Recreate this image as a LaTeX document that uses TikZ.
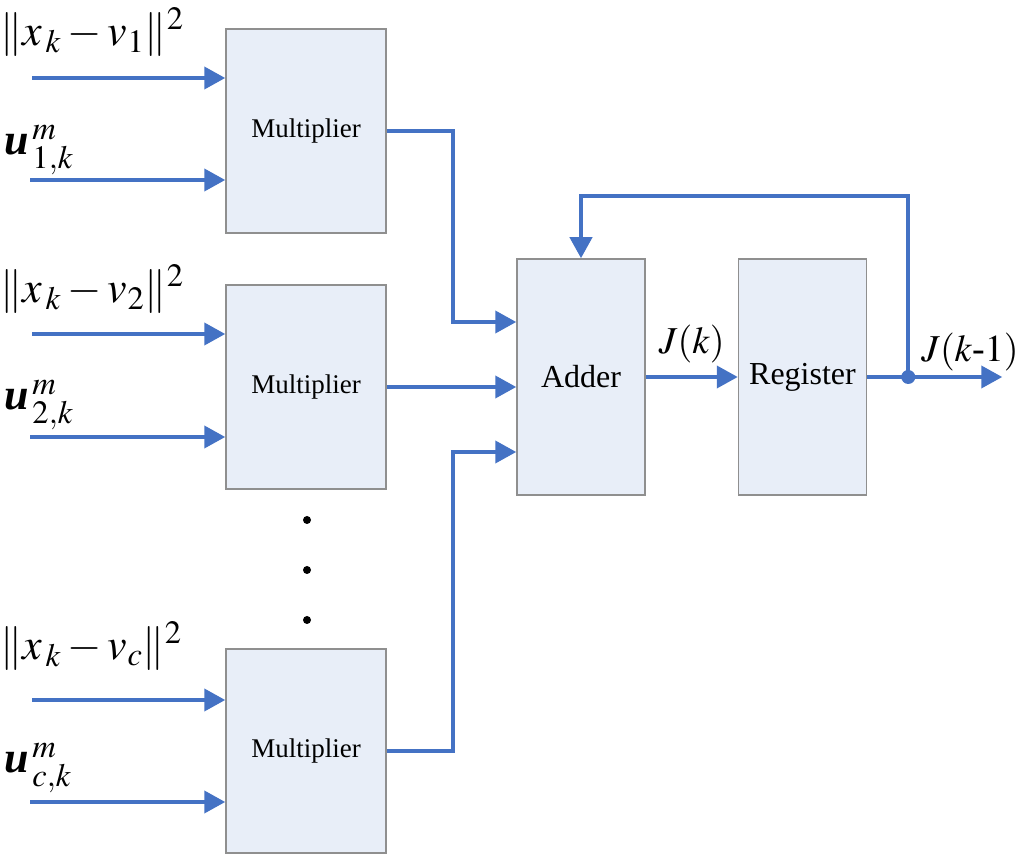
\documentclass[tikz,border=0pt]{standalone}
\usepackage{amsmath}
\usepackage{mathptmx}
\usepackage{fontspec}
\setmainfont{Liberation Serif}
\usetikzlibrary{arrows.meta,positioning}
\definecolor{wireblue}{HTML}{4472C4}
\definecolor{boxfill}{HTML}{E8EEF8}
\definecolor{boxedge}{HTML}{8F8F8F}

\begin{document}
\begin{tikzpicture}[x=0.5pt,y=-0.5pt,
  block/.style={draw=boxedge,fill=boxfill,line width=0.75pt,inner sep=0pt,
    minimum width=80pt,minimum height=102pt,font=\fontsize{13.5}{16}\selectfont},
  bigblock/.style={block,minimum width=64pt,minimum height=118pt,font=\fontsize{16}{19}\selectfont},
  wire/.style={draw=wireblue,line width=2pt,-{Triangle[length=10.5pt,width=11pt]}},
  lbl/.style={inner sep=0pt,font=\fontsize{22}{25}\selectfont},
  jlbl/.style={inner sep=0pt,font=\fontsize{19}{22}\selectfont}]
\useasboundingbox (0,0) rectangle (1024,855);
\node[block] (m1) at (306,131) {Multiplier};
\node[block] (m2) at (306,387) {Multiplier};
\node[block] (m3) at (306,751) {Multiplier};
\node[bigblock] (add) at (581,377) {Adder};
\node[bigblock] (reg) [right=46pt of add] {Register};
% inputs
\foreach \m/\a/\b in {m1/78/180,m2/334/437,m3/700/802}{
  \coordinate (\m-x) at (32,\a);
  \coordinate (\m-u) at (30,\b);
  \draw[wire] (\m-x) -- (\m-x -| \m.west);
  \draw[wire] (\m-u) -- (\m-u -| \m.west);
}
\node[lbl,anchor=west] (x1) at (0,32) {$\|x_{\,k}-v_{1}\|^{2}$};
\node[lbl,anchor=west] (u1) at (4,150) {$\text{\bfseries\itshape u}^{\,m}_{\,1,k}$};
\node[lbl,anchor=west] (x2) at (0,289) {$\|x_{\,k}-v_{2}\|^{2}$};
\node[lbl,anchor=west] (u2) at (4,405) {$\text{\bfseries\itshape u}^{\,m}_{\,2,k}$};
\node[lbl,anchor=west] (xc) at (0,646) {$\|x_{\,k}-v_{c}\|^{2}$};
\node[lbl,anchor=west] (uc) at (4,768) {$\text{\bfseries\itshape u}^{\,m}_{\,c,k}$};
\foreach \y in {520,570,620} \fill (307,\y) circle (2pt);
% multipliers to adder
\coordinate (b1) at (453,322);
\coordinate (b3) at (453,452);
\draw[wire] (m1.east) -| (b1) -- (b1 -| add.west);
\draw[wire] (m2.east) -- (m2.east -| add.west);
\draw[wire] (m3.east) -| (b3) -- (b3 -| add.west);
% adder, register, feedback
\draw[wire] (add) -- node[jlbl,above=6pt] (jk) {$J(k)$} (reg);
\coordinate[right=20.5pt of reg.east] (tap);
\coordinate[right=67.5pt of reg.east] (out);
\draw[wire] (reg.east) -- (out);
\fill[wireblue] (tap) circle (3.5pt);
\draw[wire] (tap) -- ++(0,-181) -| (add.north);
\node[jlbl] (jk1) at (970,352) {$J(k\text{-}1)$};
\end{tikzpicture}
\end{document}
